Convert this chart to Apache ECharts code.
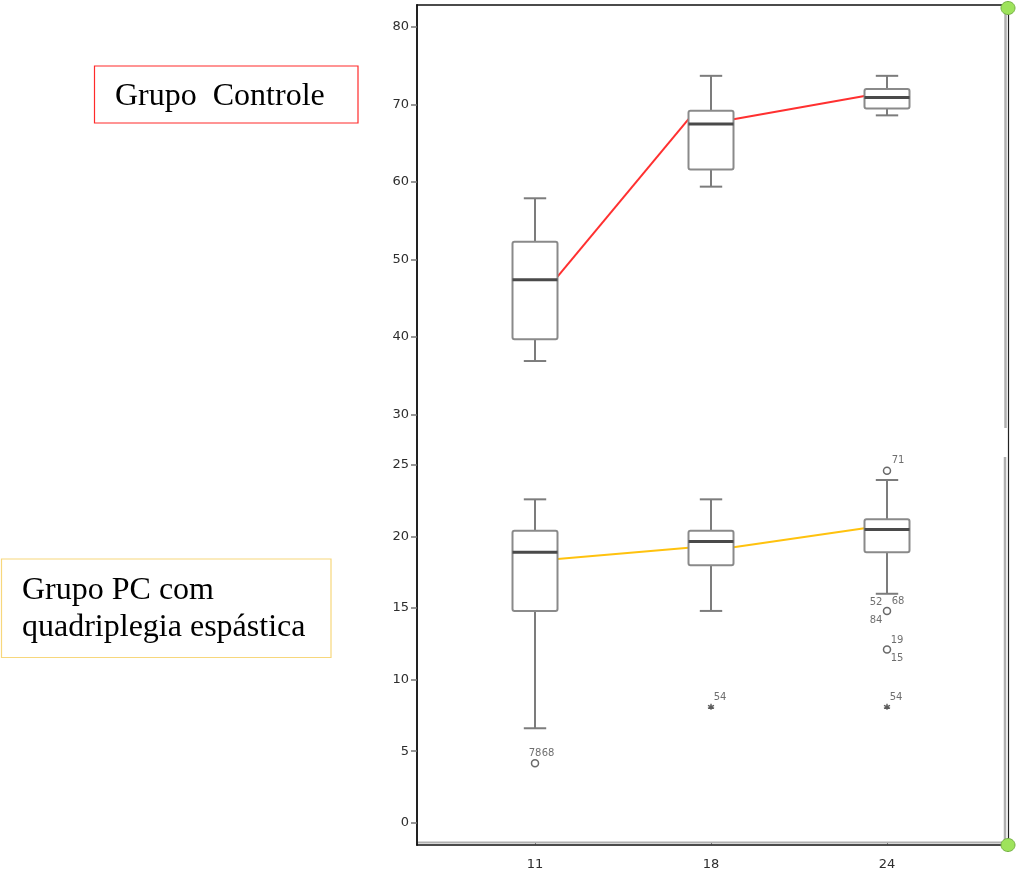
<!DOCTYPE html>
<html>
<head>
<meta charset="utf-8">
<script src="https://cdn.jsdelivr.net/npm/echarts@6/dist/echarts.min.js"></script>
<style>
html,body{margin:0;padding:0;background:#fff;}
#chart{width:1018px;height:877px;}
</style>
</head>
<body>
<div id="chart"></div>
<script>
// ---- data ----
const categories = ['11', '18', '24'];
// [min, Q1, median, Q3, max] per category
const controlBoxes = [
  [36.9, 39.7, 47.4, 52.3, 57.9],
  [59.4, 61.6, 67.5, 69.2, 73.7],
  [68.6, 69.5, 70.9, 72.0, 73.7]
];
const pcBoxes = [
  [6.6, 14.8, 18.9, 20.4, 22.6],
  [14.8, 18.0, 19.65, 20.4, 22.6],
  [16.0, 18.9, 20.5, 21.2, 23.95]
];
// trend segments drawn between neighbouring boxes: [value leaving box i, value reaching box i+1]
const controlTrend = [[47.8, 68.1], [68.1, 71.1]];
const pcTrend = [[18.43, 19.22], [19.25, 20.58]];
// outliers [category index, value]
const pcOutlierCircles = [[0, 4.15], [2, 24.6], [2, 14.8], [2, 12.1]];
const pcOutlierStars = [[1, 8.1], [2, 8.1]];
// outlier case labels [category index, value, label]
const pcOutlierLabels = [
  [0, 4.15, '78'], [0, 4.15, '68'], [2, 24.6, '71'],
  [2, 14.8, '52'], [2, 14.8, '68'], [2, 14.8, '84'],
  [2, 12.1, '19'], [2, 12.1, '15'], [1, 8.1, '54'], [2, 8.1, '54']
];
const topTicks = [30, 40, 50, 60, 70, 80];
const bottomTicks = [0, 5, 10, 15, 20, 25];

// ---- style-only helpers ----
const labelOffsets = [[0,-10],[13,-10],[11,-10],[-11,-9],[11,-10],[-11,9],[10,-9],[10,9],[9,-9],[9,-9]];
const BOX_HALF = 22.5;      // px
const PX_PER_CAT = 176;     // px between categories
const edge = BOX_HALF / PX_PER_CAT;

const chart = echarts.init(document.getElementById('chart'));

function renderBox(params, api) {
  const x = api.value(0);
  const lo = api.coord([x, api.value(1)]);
  const q1 = api.coord([x, api.value(2)]);
  const md = api.coord([x, api.value(3)]);
  const q3 = api.coord([x, api.value(4)]);
  const hi = api.coord([x, api.value(5)]);
  const cx = lo[0], hw = BOX_HALF, cw = 11.2;
  const ws = {stroke: '#7c7c7c', lineWidth: 2};
  return {
    type: 'group',
    children: [
      {type: 'line', shape: {x1: cx, y1: hi[1], x2: cx, y2: q3[1]}, style: ws},
      {type: 'line', shape: {x1: cx, y1: q1[1], x2: cx, y2: lo[1]}, style: ws},
      {type: 'line', shape: {x1: cx - cw, y1: hi[1], x2: cx + cw, y2: hi[1]}, style: ws},
      {type: 'line', shape: {x1: cx - cw, y1: lo[1], x2: cx + cw, y2: lo[1]}, style: ws},
      {type: 'rect', shape: {x: cx - hw, y: q3[1], width: hw * 2, height: q1[1] - q3[1], r: 2},
        style: {fill: '#fff', stroke: '#8a8a8a', lineWidth: 2}},
      {type: 'line', shape: {x1: cx - hw, y1: md[1], x2: cx + hw, y2: md[1]},
        style: {stroke: '#4a4a4a', lineWidth: 3}}
    ]
  };
}

const boxData = arr => arr.map((b, i) => [i].concat(b));
const segData = (pair, i) => [[i + edge, pair[0]], [i + 1 - edge, pair[1]]];

const xMin = -0.6705, xMax = 2.6875;
const axisFont = {fontFamily: 'DejaVu Sans', fontSize: 13, color: '#2e2e2e'};

const trendSeries = [];
controlTrend.forEach((p, i) => trendSeries.push({type: 'line', xAxisIndex: 0, yAxisIndex: 0,
  data: segData(p, i), symbol: 'none', z: 2, lineStyle: {color: '#ff3030', width: 2}}));
pcTrend.forEach((p, i) => trendSeries.push({type: 'line', xAxisIndex: 1, yAxisIndex: 2,
  data: segData(p, i), symbol: 'none', z: 2, lineStyle: {color: '#ffc20e', width: 2}}));

const option = {
  animation: false,
  backgroundColor: '#fff',
  grid: [
    {left: 417, top: 5, width: 591, height: 435},
    {left: 417, top: 440, width: 591, height: 405}
  ],
  xAxis: [
    {gridIndex: 0, type: 'value', min: xMin, max: xMax, position: 'top',
      axisLine: {show: true, onZero: false, lineStyle: {color: '#111', width: 1.5}},
      axisTick: {show: false}, axisLabel: {show: false}, splitLine: {show: false}},
    {gridIndex: 1, type: 'value', min: xMin, max: xMax, position: 'bottom',
      axisLine: {show: true, onZero: false, lineStyle: {color: '#111', width: 1.5}},
      axisTick: {show: true, inside: true, length: 3, customValues: [0, 1, 2], lineStyle: {color: '#444'}},
      axisLabel: Object.assign({customValues: [0, 1, 2], margin: 13,
        formatter: v => categories[Math.round(v)] || ''}, axisFont),
      splitLine: {show: false}}
  ],
  yAxis: [
    {gridIndex: 0, type: 'value', min: 26.71, max: 82.84, position: 'left',
      axisLine: {show: true, onZero: false, lineStyle: {color: '#222', width: 2}},
      axisTick: {show: true, length: 6, customValues: topTicks, lineStyle: {color: '#777', width: 1.5}},
      axisLabel: Object.assign({customValues: topTicks, margin: 8}, axisFont),
      splitLine: {show: false}},
    {gridIndex: 0, type: 'value', min: 26.71, max: 82.84, position: 'right',
      axisLine: {show: true, onZero: false, lineStyle: {color: '#222', width: 1.2}},
      axisTick: {show: false}, axisLabel: {show: false}, splitLine: {show: false}},
    {gridIndex: 1, type: 'value', min: -1.559, max: 26.747, position: 'left',
      axisLine: {show: true, onZero: false, lineStyle: {color: '#222', width: 2}},
      axisTick: {show: true, length: 6, customValues: bottomTicks, lineStyle: {color: '#777', width: 1.5}},
      axisLabel: Object.assign({customValues: bottomTicks, margin: 8}, axisFont),
      splitLine: {show: false}},
    {gridIndex: 1, type: 'value', min: -1.559, max: 26.747, position: 'right',
      axisLine: {show: true, onZero: false, lineStyle: {color: '#222', width: 1.2}},
      axisTick: {show: false}, axisLabel: {show: false}, splitLine: {show: false}}
  ],
  series: trendSeries.concat([
    {type: 'custom', xAxisIndex: 0, yAxisIndex: 0, renderItem: renderBox, z: 5,
      encode: {x: 0, y: [1, 2, 3, 4, 5]}, data: boxData(controlBoxes)},
    {type: 'custom', xAxisIndex: 1, yAxisIndex: 2, renderItem: renderBox, z: 5,
      encode: {x: 0, y: [1, 2, 3, 4, 5]}, data: boxData(pcBoxes)},
    {type: 'scatter', xAxisIndex: 1, yAxisIndex: 2, data: pcOutlierCircles, z: 6,
      symbol: 'circle', symbolSize: 7,
      itemStyle: {color: '#fff', borderColor: '#444', borderWidth: 1.5}},
    {type: 'scatter', xAxisIndex: 1, yAxisIndex: 2, data: pcOutlierStars, z: 6,
      symbol: 'path://M0,-5L0,5M-4.3,-2.5L4.3,2.5M-4.3,2.5L4.3,-2.5', symbolSize: 6,
      itemStyle: {color: '#333', borderColor: '#333', borderWidth: 1.4}},
    {type: 'scatter', xAxisIndex: 1, yAxisIndex: 2, z: 7, symbolSize: 0, silent: true,
      data: pcOutlierLabels.map((d, i) => ({
        value: [d[0], d[1]],
        label: {show: true, formatter: d[2], position: 'inside', offset: labelOffsets[i],
          fontFamily: 'DejaVu Sans', fontSize: 10, color: '#4a4a4a'}
      }))}
  ]),
  graphic: [
    {type: 'line', shape: {x1: 1005.5, y1: 8, x2: 1005.5, y2: 428}, style: {stroke: '#b0b0b0', lineWidth: 2.5}, z: 1},
    {type: 'line', shape: {x1: 1005, y1: 457, x2: 1005, y2: 845}, style: {stroke: '#b0b0b0', lineWidth: 2.5}, z: 1},
    {type: 'line', shape: {x1: 418, y1: 842.5, x2: 1008, y2: 842.5}, style: {stroke: '#b0b0b0', lineWidth: 2}, z: 1},
    {type: 'ellipse', shape: {cx: 1008, cy: 8, rx: 7, ry: 6.5}, style: {fill: '#9ee35c', stroke: '#74b043', lineWidth: 1}, z: 20},
    {type: 'ellipse', shape: {cx: 1008, cy: 845, rx: 7, ry: 6.5}, style: {fill: '#9ee35c', stroke: '#74b043', lineWidth: 1}, z: 20},
    {type: 'rect', shape: {x: 94.5, y: 66, width: 263.5, height: 57}, style: {fill: '#fff', stroke: '#ff2a2a', lineWidth: 1.2}, z: 10},
    {type: 'text', x: 115, y: 81, z: 11,
      style: {text: 'Grupo  Controle', fill: '#000', font: '32px "Liberation Serif"'}},
    {type: 'rect', shape: {x: 1.5, y: 559, width: 329.5, height: 98.5}, style: {fill: '#fff', stroke: '#f7d77c', lineWidth: 1.2}, z: 10},
    {type: 'text', x: 22, y: 575, z: 11,
      style: {text: 'Grupo PC com', fill: '#000', font: '32px "Liberation Serif"'}},
    {type: 'text', x: 22, y: 612, z: 11,
      style: {text: 'quadriplegia espástica', fill: '#000', font: '32px "Liberation Serif"'}}
  ]
};
chart.setOption(option);
</script>
</body>
</html>
